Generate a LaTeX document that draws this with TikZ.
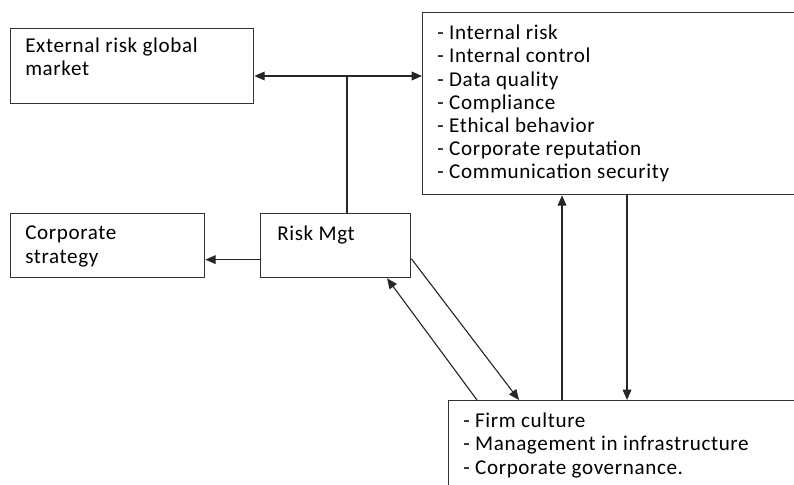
\documentclass[tikz,border=0pt]{standalone}
\usepackage{fontspec}
\setmainfont{Carlito}[LetterSpace=3]
\usetikzlibrary{calc}
\usetikzlibrary{positioning}
\usetikzlibrary{arrows.meta}
\tikzstyle{box} = [draw=black!80, line width=0.9pt, rectangle, anchor=north west, inner sep=0]
\tikzstyle{boxtext} = [anchor=north west, inner sep=0, align=left, font=\fontsize{15}{16.4}\selectfont]
\tikzstyle{link} = [line width=0.8pt, draw=black!85]
\tikzstyle{arr} = [link, -{Triangle[length=2.6mm,width=2.2mm]}]
\begin{document}
\begin{tikzpicture}[x=0.025cm, y=-0.025cm]
\clip (0,0) rectangle (794,485);
\node[box, minimum width=6.075cm, minimum height=1.875cm] (ext) at (10,28) {};
\node[box, minimum width=9.45cm, minimum height=4.55cm] (internal) at (422,12) {};
\node[box, minimum width=4.85cm, minimum height=1.6cm] (strategy) at (10,213) {};
\node[box, minimum width=3.75cm, minimum height=1.6cm] (risk) at (260,213) {};
\node[box, minimum width=8.8cm, minimum height=2.5cm] (factors) at (448,400) {};

\node[boxtext] (ext_text) at ($(ext.north west)+(15,10)$) {External risk global\\market};
\node[boxtext] (internal_text) at ($(internal.north west)+(15,13)$)
{- Internal risk\\- Internal control\\- Data quality\\- Compliance\\- Ethical behavior\\- Corporate reputation\\- Communication security};
\node[boxtext] (strategy_text) at ($(strategy.north west)+(15,13)$) {Corporate\\strategy};
\node[boxtext] (risk_text) at ($(risk.north west)+(17,13)$) {Risk Mgt};
\node[boxtext] (factors_text) at ($(factors.north west)+(15,13)$)
{- Firm culture\\- Management in infrastructure\\- Corporate governance.};

\coordinate (hub) at (347,76);
\coordinate (up) at ([xshift=2.85cm]factors.north west);
\coordinate (down) at ([xshift=4.475cm]factors.north west);
\draw[link, {Triangle[length=2.6mm,width=2.2mm]}-{Triangle[length=2.6mm,width=2.2mm]}] (hub -| ext.east) -- (hub -| internal.west);
\draw[link] (hub |- risk.north) -- (hub);
\draw[arr] ([yshift=-0.35cm]risk.west) -- ([yshift=-0.35cm]risk.west -| strategy.east);
\draw[arr] ([yshift=-0.325cm]risk.east) -- ([xshift=1.775cm]factors.north west);
\draw[arr] ([xshift=0.725cm]factors.north west) -- ([xshift=3.175cm]risk.south west);
\draw[arr] (up) -- (up |- internal.south);
\draw[arr] (down |- internal.south) -- (down);
\end{tikzpicture}
\end{document}
